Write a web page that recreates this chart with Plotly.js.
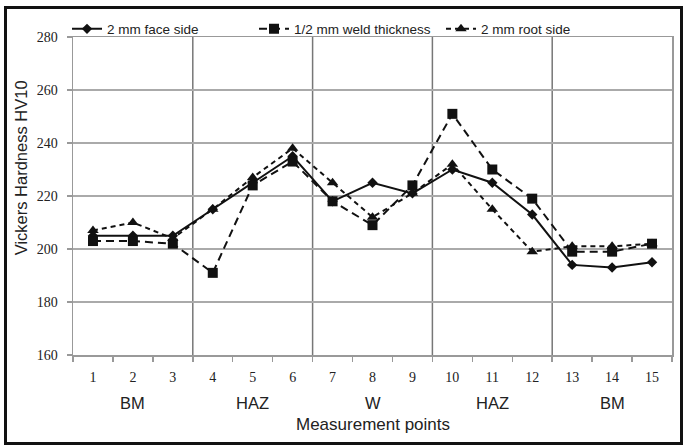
<!DOCTYPE html>
<html>
<head>
<meta charset="utf-8">
<script src="https://cdn.plot.ly/plotly-3.0.1.min.js"></script>
<style>
  html, body { margin: 0; padding: 0; background: #fff; }
  #wrap { position: relative; width: 683px; height: 445px; }
  #chart { width: 683px; height: 445px; }
  #frame { position: absolute; left: 4px; top: 6px; width: 673px; height: 433px; border: 3px solid #111; box-sizing: content-box; pointer-events: none; }
</style>
</head>
<body>
<div id="wrap">
  <div id="chart"></div>
  <div id="frame"></div>
</div>
<script>
const points = ["1","2","3","4","5","6","7","8","9","10","11","12","13","14","15"];
const faceSide = [205, 205, 205, 215, 225, 235, 218, 225, 221, 230, 225, 213, 194, 193, 195];
const weldThickness = [203, 203, 202, 191, 224, 233, 218, 209, 224, 251, 230, 219, 199, 199, 202];
const rootSide = [207, 210, 204, 215, 227, 238, 225, 212, 221, 232, 215, 199, 201, 201, 202];
const seriesNames = ["2 mm face side", "1/2 mm weld thickness", "2 mm root side"];
const zoneLabels = ["BM", "HAZ", "W", "HAZ", "BM"];
const zoneCenterIndex = [1, 4, 7, 10, 13];
const zoneBoundaries = [2.5, 5.5, 8.5, 11.5];
const yTicks = [160, 180, 200, 220, 240, 260, 280];

const traces = [
  { x: points, y: faceSide, name: seriesNames[0], type: 'scatter', mode: 'lines+markers',
    line: { color: '#111', width: 2 }, marker: { symbol: 'diamond', size: 8, color: '#111' } },
  { x: points, y: weldThickness, name: seriesNames[1], type: 'scatter', mode: 'lines+markers',
    line: { color: '#111', width: 2, dash: '8px,5px' }, marker: { symbol: 'square', size: 10, color: '#111' } },
  { x: points, y: rootSide, name: seriesNames[2], type: 'scatter', mode: 'lines+markers',
    line: { color: '#111', width: 2, dash: '5px,4px' }, marker: { symbol: 'triangle-up', size: 10, color: '#111' } }
];

const shapes = zoneBoundaries.map(b => ({
  type: 'line', xref: 'x', yref: 'paper', x0: b, x1: b, y0: 0, y1: 1,
  line: { color: '#777', width: 1.5 }, layer: 'below'
}));

const annotations = zoneLabels.map((t, i) => ({
  text: t, x: zoneCenterIndex[i], xref: 'x', yref: 'paper', y: -0.152, yanchor: 'middle',
  showarrow: false, font: { family: 'Liberation Sans, Arial, sans-serif', size: 16.5, color: '#222' }
}));
annotations.push({
  text: 'Measurement points', xref: 'paper', yref: 'paper', x: 0.5, y: -0.217, yanchor: 'middle',
  showarrow: false, font: { family: 'Liberation Sans, Arial, sans-serif', size: 17, color: '#222' }
});
annotations.push({
  text: 'Vickers Hardness HV10', xref: 'paper', yref: 'paper', x: -0.087, y: 0.59,
  xanchor: 'center', yanchor: 'middle', textangle: -90,
  showarrow: false, font: { family: 'Liberation Sans, Arial, sans-serif', size: 16.5, color: '#222' }
});

const layout = {
  width: 683, height: 445,
  margin: { l: 73, r: 11, t: 37, b: 90 },
  paper_bgcolor: '#fff', plot_bgcolor: '#fff',
  showlegend: true,
  legend: { orientation: 'h', x: -0.01, xanchor: 'left', y: 1.025, yanchor: 'middle',
    font: { family: 'Liberation Sans, Arial, sans-serif', size: 13.5, color: '#222' },
    bgcolor: 'rgba(0,0,0,0)', entrywidth: 142, tracegroupgap: 0 },
  xaxis: {
    type: 'category', categoryorder: 'array', categoryarray: points,
    range: [-0.5, 14.5], tickson: 'boundaries',
    showgrid: false, showline: true, linecolor: '#999', linewidth: 1.5, mirror: true,
    ticks: 'outside', ticklen: 5, tickcolor: '#999', tickwidth: 1.5, ticklabelstandoff: 9,
    tickfont: { family: 'Liberation Serif, Times New Roman, serif', size: 14, color: '#222' },
    zeroline: false, fixedrange: true
  },
  yaxis: {
    range: [160, 280], tickvals: yTicks,
    showgrid: true, gridcolor: '#aaa', gridwidth: 1.5,
    showline: true, linecolor: '#999', linewidth: 1.5, mirror: true,
    ticks: 'outside', ticklen: 5, tickcolor: '#999', tickwidth: 1.5, ticklabelstandoff: 6,
    tickfont: { family: 'Liberation Serif, Times New Roman, serif', size: 14, color: '#222' },
    zeroline: false, fixedrange: true
  },
  shapes: shapes,
  annotations: annotations
};

Plotly.newPlot('chart', traces, layout, { displayModeBar: false, staticPlot: true });
</script>
</body>
</html>
